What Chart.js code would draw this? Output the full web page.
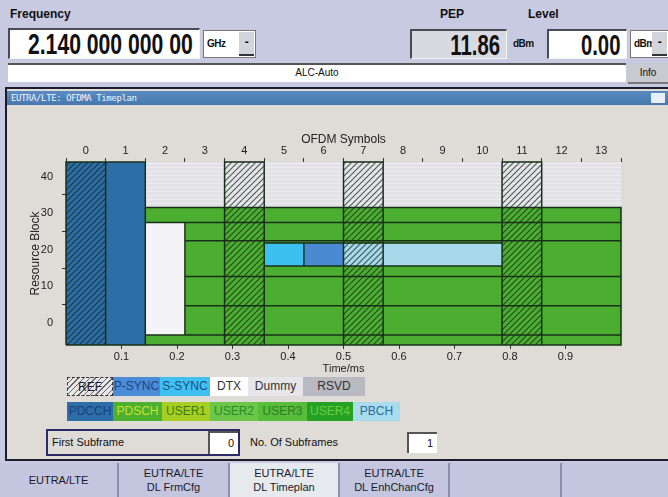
<!DOCTYPE html>
<html>
<head>
<meta charset="utf-8">
<script src="https://cdn.jsdelivr.net/npm/chart.js@4/dist/chart.umd.min.js"></script>
<style>
  body{margin:0;width:668px;height:497px;overflow:hidden;background:#c7cae1;font-family:"Liberation Sans",Arial,sans-serif;position:relative;color:#111}
  .abs{position:absolute}
  .lbl{position:absolute;font-weight:bold;font-size:12px}
  .field{position:absolute;background:#fff;border-top:2px solid #4a4a55;border-left:2px solid #4a4a55;border-bottom:1px solid #f4f4f8;border-right:1px solid #f4f4f8;box-sizing:border-box;overflow:hidden}
  .big{position:absolute;right:6px;top:-1px;display:inline-block;white-space:nowrap;font-weight:bold;font-size:29px;line-height:30px;transform:scaleX(0.7);transform-origin:right center;color:#111}
  .drop{position:absolute;background:#fff;border:1px solid #777;box-sizing:border-box;font-size:10px;font-weight:bold;padding:7px 0 0 3px;letter-spacing:-0.5px}
  .btn{position:absolute;right:1px;top:1px;bottom:1px;width:15px;background:#d4d4dc;border-bottom:2px solid #333;text-align:center;font-size:12px;line-height:20px}
  #win{position:absolute;left:5px;top:87px;width:680px;height:374px;border:2px solid #1c1c2a;background:#dfdbd7;box-sizing:border-box}
  #title{position:absolute;left:0;top:2px;right:0;height:14px;background:linear-gradient(#5b8bc2,#4677ad);color:#eef4ff;font-size:9px;line-height:14px;padding-left:4px;font-family:"DejaVu Sans Mono",monospace;letter-spacing:-0.4px}
  .lg{position:absolute;height:19px;line-height:19px;font-size:12px;text-align:center;box-sizing:border-box;overflow:hidden;white-space:nowrap}
  .key{position:absolute;top:463px;height:34px;background:#c3c6de;border-left:2px solid #8d90aa;box-sizing:border-box;font-size:11px;text-align:center;color:#1a1a2a;line-height:14px}
  .inbox{position:absolute;background:#fff;border-top:2px solid #555;border-left:2px solid #555;box-sizing:border-box;text-align:right;font-size:11px;padding-right:4px}
</style>
</head>
<body>
<!-- header fields -->
<div class="lbl" style="left:10px;top:7px">Frequency</div>
<div class="field" style="left:8px;top:28px;width:192px;height:31px"><span class="big" style="transform:scaleX(0.73)">2.140 000 000 00</span></div>
<div class="drop" style="left:203px;top:30px;width:53px;height:28px">GHz<div class="btn">-</div></div>
<div class="lbl" style="left:440px;top:7px">PEP</div>
<div class="field" style="left:410px;top:29px;width:97px;height:30px;background:#d9d9e1"><span class="big">11.86</span></div>
<div class="abs" style="left:513px;top:38px;font-size:10px;font-weight:bold;letter-spacing:-0.5px">dBm</div>
<div class="lbl" style="left:528px;top:7px">Level</div>
<div class="field" style="left:547px;top:29px;width:80px;height:30px"><span class="big">0.00</span></div>
<div class="drop" style="left:630px;top:30px;width:42px;height:28px">dBm<div class="btn" style="right:4px">-</div></div>
<div class="abs" style="left:8px;top:63px;width:618px;height:19px;background:#fff;border-top:2px solid #555;box-sizing:border-box;font-size:10px;text-align:center;line-height:16px">ALC-Auto</div>
<div class="abs" style="left:628px;top:63px;width:40px;height:21px;background:#c9c9d2;border-bottom:2px solid #777;box-sizing:border-box;font-size:10px;text-align:center;line-height:19px">Info</div>

<!-- timeplan window -->
<div id="win">
  <div id="title">EUTRA/LTE: OFDMA Timeplan</div>
  <div class="abs" style="right:18px;top:4px;width:14px;height:10px;background:#e8eef8"></div>
</div>
<canvas id="plan" width="628" height="244" style="position:absolute;left:22px;top:132px"></canvas>

<!-- legend -->
<div class="lg" style="left:67px;top:377px;width:46px;border:1px dashed #333;background:repeating-linear-gradient(135deg,#e8e8ea 0 3px,#666 3px 4px);color:#222">REF</div>
<div class="lg" style="left:113px;top:377px;width:47px;background:#4a8cd6;color:#1e4386">P-SYNC</div>
<div class="lg" style="left:160px;top:377px;width:50px;background:#3fc0f0;color:#1e4b86">S-SYNC</div>
<div class="lg" style="left:210px;top:377px;width:38px;background:#fff;color:#333">DTX</div>
<div class="lg" style="left:248px;top:377px;width:55px;background:#e5e5ea;color:#333">Dummy</div>
<div class="lg" style="left:303px;top:377px;width:62px;background:#b9b9c1;color:#333">RSVD</div>
<div class="lg" style="left:67px;top:402px;width:46px;background:#2c6ea7;color:#1a3f78">PDCCH</div>
<div class="lg" style="left:113px;top:402px;width:49px;background:#4db031;color:#c8e030">PDSCH</div>
<div class="lg" style="left:162px;top:402px;width:48px;background:#a6cf24;color:#3f7a12">USER1</div>
<div class="lg" style="left:210px;top:402px;width:48px;background:#6cc648;color:#2b8a2b">USER2</div>
<div class="lg" style="left:258px;top:402px;width:49px;background:#57bd3a;color:#2a7a2a">USER3</div>
<div class="lg" style="left:307px;top:402px;width:46px;background:#26a126;color:#64d040">USER4</div>
<div class="lg" style="left:353px;top:402px;width:47px;background:#a8dcec;color:#2c6a9c">PBCH</div>

<!-- subframe selection -->
<div class="abs" style="left:46px;top:429px;width:194px;height:27px;border:2px solid #2d2a6a;box-sizing:border-box;font-size:11px;line-height:22px;padding-left:4px">First Subframe</div>
<div class="inbox" style="left:208px;top:431px;width:30px;height:23px;line-height:21px">0</div>
<div class="abs" style="left:250px;top:436px;font-size:11px">No. Of Subframes</div>
<div class="inbox" style="left:407px;top:432px;width:30px;height:21px;line-height:19px">1</div>

<!-- soft keys -->
<div class="key" style="left:0;width:117px;border-left:none;line-height:34px">EUTRA/LTE</div>
<div class="key" style="left:117px;width:111px;padding-top:3px">EUTRA/LTE<br>DL FrmCfg</div>
<div class="key" style="left:228px;width:110px;padding-top:3px;background:#e6eaef">EUTRA/LTE<br>DL Timeplan</div>
<div class="key" style="left:338px;width:110px;padding-top:3px">EUTRA/LTE<br>DL EnhChanCfg</div>
<div class="key" style="left:448px;width:112px"></div>
<div class="key" style="left:560px;width:108px"></div>

<script>
// axis labels
const symbolLabels = ['0','1','2','3','4','5','6','7','8','9','10','11','12','13'];
const timeTicks = [0.1,0.2,0.3,0.4,0.5,0.6,0.7,0.8,0.9];
const rbLabelTicks = [0,10,20,30,40];
const rbMarkTicks = [5,15,25,35];

// resource grid cells: channel, symbol range [from,to), resource block range [low,high]
const cellChannel = ['PDCCH','Dummy','PDSCH','DTX','PDSCH','PDSCH','PDSCH','PDSCH','PDSCH','S-SYNC','P-SYNC','PBCH'];
const cellSymFrom = [0, 2, 2, 2, 3, 3, 3, 3, 2, 5, 6, 7];
const cellSymTo   = [2,14,14, 3,14,14,14,14,14, 6, 7,11];
const cellRbLow   = [-6,31.6,27.5,-3.3,22.5,12.7, 4.7,-3.3,-6,15.6,15.6,15.6];
const cellRbHigh  = [44,44,31.6,27.5,27.5,22.5,12.7, 4.7,-3.3,21.9,21.9,21.9];
// reference signal symbols (hatched columns)
const refSymbols = [0,4,7,11];

function stripes(bg, fg){
  const c = document.createElement('canvas'); c.width = 6; c.height = 6;
  const g = c.getContext('2d');
  if(bg){ g.fillStyle = bg; g.fillRect(0,0,6,6); }
  g.strokeStyle = fg; g.lineWidth = 1.1;
  g.beginPath();
  g.moveTo(0,6); g.lineTo(6,0);
  g.moveTo(-3,3); g.lineTo(3,-3);
  g.moveTo(3,9); g.lineTo(9,3);
  g.stroke();
  return g.createPattern(c,'repeat');
}
function rows(bg, fg){
  const c = document.createElement('canvas'); c.width = 4; c.height = 4;
  const g = c.getContext('2d');
  g.fillStyle = bg; g.fillRect(0,0,4,4);
  g.fillStyle = fg; g.fillRect(0,3,4,1);
  return g.createPattern(c,'repeat');
}

const channelStyle = {
  'PDCCH':  {color:'#2c6ea7', outline:true},
  'Dummy':  {color:rows('#e2e2e7','#ececf0'), outline:false},
  'PDSCH':  {color:'#4cae30', outline:true},
  'DTX':    {color:'#f4f4f6', outline:false},
  'S-SYNC': {color:'#3cc0ef', outline:true},
  'P-SYNC': {color:'#4a8ad2', outline:true},
  'PBCH':   {color:'#a6d9ea', outline:true}
};
const refFill = stripes(null,'rgba(20,35,25,0.72)');
const lineColor = '#183018';

const datasets = [];
const outline = [];
function addRect(x0, x1, lo, hi, fill, outlined){
  datasets.push({
    data:[{x:x0,y:hi},{x:x1,y:hi}],
    fill:{value:lo}, backgroundColor:fill, borderWidth:0, pointRadius:0
  });
  if(outlined){
    outline.push({x:x0,y:lo},{x:x1,y:lo},{x:x1,y:hi},{x:x0,y:hi},{x:x0,y:lo},{x:x0,y:null});
  }
}
cellChannel.forEach((ch,i)=>{
  const st = channelStyle[ch];
  addRect(cellSymFrom[i], cellSymTo[i], cellRbLow[i], cellRbHigh[i], st.color, st.outline);
});
refSymbols.forEach(s=>addRect(s, s+1, -6, 44, refFill, true));
datasets.push({data:outline, fill:false, borderColor:lineColor, borderWidth:1.5, pointRadius:0, spanGaps:false, clip:3});
datasets.forEach((d,i)=>{ d.xAxisID='xs'; d.yAxisID='y'; d.order=-i; d.tension=0; });

Chart.defaults.font.family = '"Liberation Sans", Arial, sans-serif';
Chart.defaults.color = '#222';

new Chart(document.getElementById('plan').getContext('2d'), {
  type:'line',
  data:{datasets},
  options:{
    responsive:false, animation:false, devicePixelRatio:1,
    layout:{padding:{left:0,right:29,top:0,bottom:0}},
    plugins:{legend:{display:false}, tooltip:{enabled:false}},
    scales:{
      xs:{type:'linear', axis:'x', position:'top', min:0, max:14, display:false},
      xc:{type:'category', axis:'x', position:'top', labels:symbolLabels, offset:true,
        grid:{offset:true, drawOnChartArea:false, tickLength:4, color:'#333'},
        border:{display:false},
        ticks:{font:{size:11}, padding:0, maxRotation:0, autoSkip:false},
        title:{display:true, text:'OFDM Symbols', font:{size:12}, padding:{top:0,bottom:0}},
        afterFit:s=>{ s.height = 30; }
      },
      xt:{type:'linear', axis:'x', position:'bottom', min:0, max:1,
        afterBuildTicks:s=>{ s.ticks = timeTicks.map(v=>({value:v})); },
        grid:{drawOnChartArea:false, tickLength:4, color:'#333'},
        border:{display:false},
        ticks:{font:{size:11}, padding:1, maxRotation:0, callback:v=>v.toFixed(1)},
        title:{display:true, text:'Time/ms', font:{size:11}, padding:{top:0,bottom:0}},
        afterFit:s=>{ s.height = 31; }
      },
      y:{type:'linear', axis:'y', position:'left', min:-6, max:44, weight:1,
        afterBuildTicks:s=>{ s.ticks = rbLabelTicks.map(v=>({value:v})); },
        grid:{display:false, drawTicks:false}, border:{display:false},
        ticks:{font:{size:11}, padding:9},
        title:{display:true, text:'Resource Block', font:{size:12}, padding:{top:6,bottom:0}},
        afterFit:s=>{ s.width = 40; }
      },
      ym:{type:'linear', axis:'y', position:'left', min:-6, max:44, weight:0,
        afterBuildTicks:s=>{ s.ticks = rbMarkTicks.map(v=>({value:v})); },
        ticks:{display:false},
        grid:{drawOnChartArea:false, tickLength:4, color:'#333'},
        border:{display:false},
        afterFit:s=>{ s.width = 4; }
      }
    }
  }
});
</script>
</body>
</html>
